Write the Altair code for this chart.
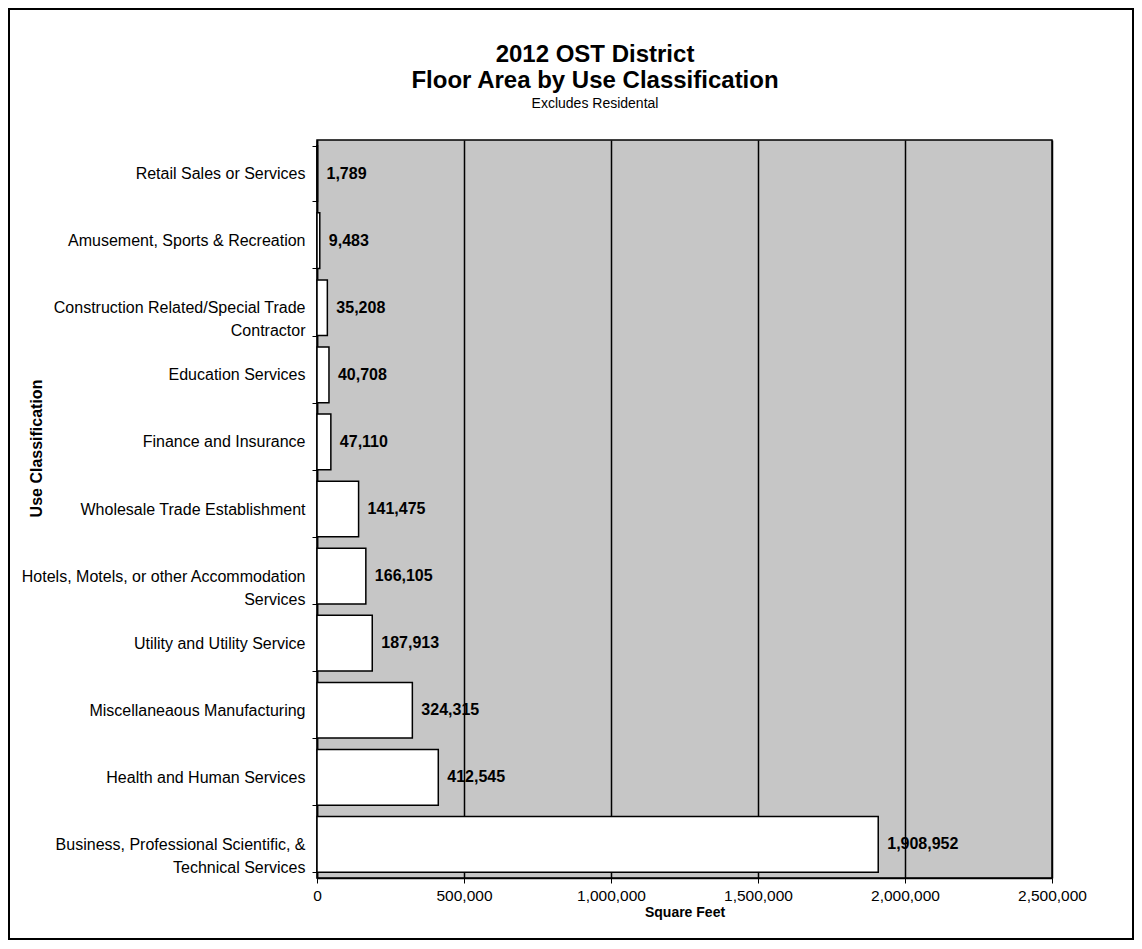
import altair as alt
import pandas as pd

categories = [
    "Retail Sales or Services",
    "Amusement, Sports & Recreation",
    "Construction Related/Special Trade|Contractor",
    "Education Services",
    "Finance and Insurance",
    "Wholesale Trade Establishment",
    "Hotels, Motels, or other Accommodation|Services",
    "Utility and Utility Service",
    "Miscellaneaous Manufacturing",
    "Health and Human Services",
    "Business, Professional Scientific, &|Technical Services",
]
values = [1789, 9483, 35208, 40708, 47110, 141475, 166105, 187913, 324315, 412545, 1908952]
x_ticks = [0, 500000, 1000000, 1500000, 2000000, 2500000]
title_lines = ["2012 OST District", "Floor Area by Use Classification"]
subtitle_text = "Excludes Residental"

df = pd.DataFrame({"cat": categories, "val": values})

FONT = "Liberation Sans"

y_enc = alt.Y(
    "cat:N",
    sort=categories,
    scale=alt.Scale(paddingInner=0.17, paddingOuter=0.085),
    axis=alt.Axis(
        title="Use Classification",
        titleFont=FONT, titleFontSize=16, titleFontWeight="bold", titleColor="black",
        titleX=-281, titleY=308, titleAngle=270, titleAlign="center", titleBaseline="middle",
        labelFont=FONT, labelFontSize=16, labelColor="black", labelLimit=400,
        labelExpr="split(datum.label, '|')", labelLineHeight=23,
        labelPadding=7, tickBand="extent", tickSize=5, tickColor="black",
        domainColor="black", domainWidth=1.5, grid=False,
    ),
)

x_enc = alt.X(
    "val:Q",
    scale=alt.Scale(domain=[0, 2500000], nice=False),
    axis=alt.Axis(
        title="Square Feet",
        titleFont=FONT, titleFontSize=14, titleFontWeight="bold", titleColor="black",
        titlePadding=2,
        values=x_ticks,
        labelExpr="format(datum.value, ',')",
        labelFlush=False,
        labelFont=FONT, labelFontSize=15.5, labelColor="black", labelPadding=5,
        tickSize=5, tickColor="black", domainColor="black", domainWidth=1.5,
        grid=True, gridColor="black", gridWidth=1.5, gridOpacity=1,
    ),
)

bars = alt.Chart(df).mark_bar(fill="white", stroke="black", strokeWidth=1.5).encode(
    x=x_enc, y=y_enc
)

labels = alt.Chart(df).mark_text(
    align="left", baseline="middle", dx=9, font=FONT, fontSize=16, fontWeight="bold", color="black"
).encode(
    x=x_enc,
    y=y_enc,
    text=alt.Text("val:Q", format=","),
)

frame = alt.Chart(df).mark_rect(fill=None, stroke="black", strokeWidth=1.5).encode(
    x=alt.value(-308), x2=alt.value(816), y=alt.value(-131), y2=alt.value(799)
)

title1 = alt.Chart(pd.DataFrame({"t": [title_lines[0]]})).mark_text(
    font=FONT, fontSize=24, fontWeight="bold", color="black", align="center", baseline="middle"
).encode(text="t:N", x=alt.value(278), y=alt.value(-85))

title2 = alt.Chart(pd.DataFrame({"t": [title_lines[1]]})).mark_text(
    font=FONT, fontSize=24, fontWeight="bold", color="black", align="center", baseline="middle"
).encode(text="t:N", x=alt.value(278), y=alt.value(-59))

subtitle = alt.Chart(pd.DataFrame({"t": [subtitle_text]})).mark_text(
    font=FONT, fontSize=14, color="black", align="center", baseline="middle"
).encode(text="t:N", x=alt.value(278), y=alt.value(-36))

chart = alt.layer(bars, labels, frame, title1, title2, subtitle).properties(
    width=735,
    height=738,
    autosize=alt.AutoSizeParams(type="none"),
    padding={"left": 309, "top": 132, "right": 82, "bottom": 62},
    background="white",
).configure_view(
    fill="#c6c6c6", stroke="black", strokeWidth=1.5
)

chart.save("out.html", embed_options={"renderer": "svg", "actions": False})
